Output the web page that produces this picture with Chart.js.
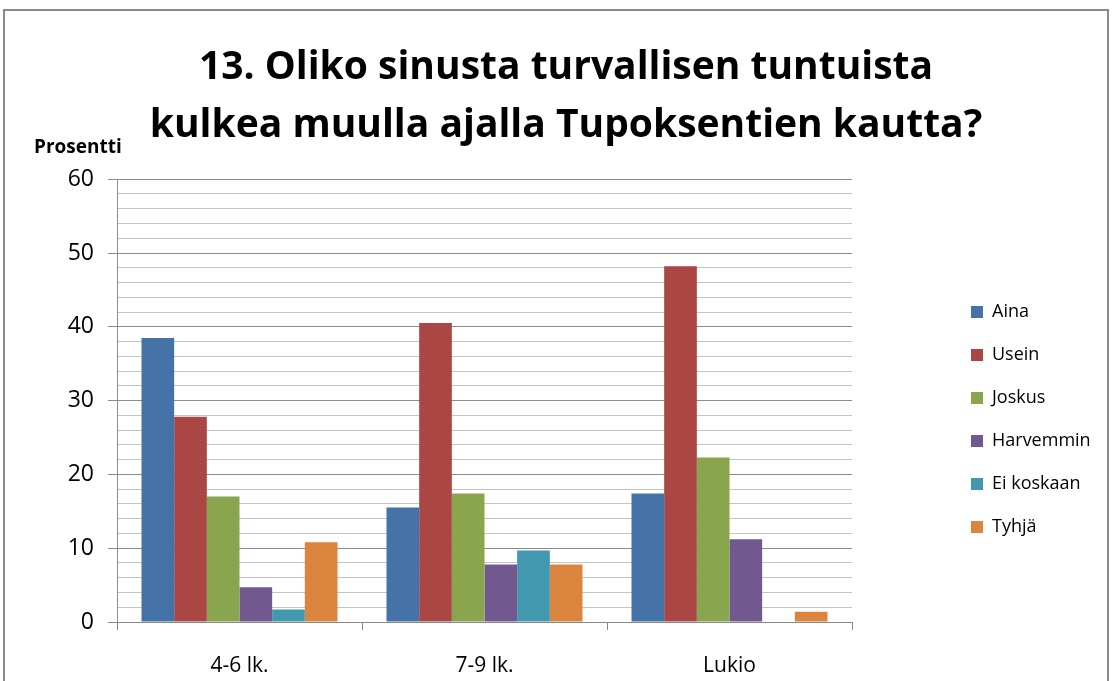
<!DOCTYPE html>
<html>
<head>
<meta charset="utf-8">
<script src="https://cdn.jsdelivr.net/npm/chart.js@4/dist/chart.umd.min.js"></script>
<style>
  html, body { margin: 0; padding: 0; background: #fff; overflow: hidden; }
  #wrap { position: relative; width: 1114px; height: 681px; }
  #frame { position: absolute; left: 3px; top: 9px; width: 1106px; height: 700px; border: 2px solid #8a8a8a; box-sizing: border-box; pointer-events: none; }
  canvas { position: absolute; left: 0; top: 0; }
</style>
</head>
<body>
<div id="wrap">
  <canvas id="chart" width="1114" height="681"></canvas>
  <div id="frame"></div>
</div>
<script>
// data
const categories = ['4-6 lk.', '7-9 lk.', 'Lukio'];
const seriesNames = ['Aina', 'Usein', 'Joskus', 'Harvemmin', 'Ei koskaan', 'Tyhjä'];
const aina = [38.5, 15.5, 17.4];
const usein = [27.8, 40.5, 48.2];
const joskus = [17.0, 17.4, 22.3];
const harvemmin = [4.7, 7.8, 11.2];
const eiKoskaan = [1.7, 9.7, 0];
const tyhja = [10.8, 7.8, 1.4];
const colors = ['#4572A7', '#AA4643', '#89A54E', '#71588F', '#4198AF', '#DB843D'];
const titleLines = ['13. Oliko sinusta turvallisen tuntuista', 'kulkea muulla ajalla Tupoksentien kautta?'];

const FONT = "'Open Sans', sans-serif";
const seriesValues = [aina, usein, joskus, harvemmin, eiKoskaan, tyhja];

// "Prosentti" horizontal axis title + legend/title placement
const extras = {
  id: 'extras',
  afterInit(chart) {
    const lg = chart.legend;
    const fit = lg.fit;
    lg.fit = function () { fit.call(this); this.width = 262; };
  },
  afterLayout(chart) {
    const lg = chart.legend;
    lg.left += 94;
    lg.right += 94;
    lg.top += 79;
    lg.bottom += 79;
    const t = chart.titleBlock;
    t.left += 9;
    t.right += 9;
  },
  afterDraw(chart) {
    const ctx = chart.ctx;
    ctx.save();
    ctx.font = 'bold 19px ' + FONT;
    ctx.fillStyle = '#000';
    ctx.textAlign = 'left';
    ctx.textBaseline = 'middle';
    ctx.fillText('Prosentti', 34, 148);
    ctx.restore();
  }
};

new Chart(document.getElementById('chart'), {
  type: 'bar',
  data: {
    labels: categories,
    datasets: seriesNames.map((n, i) => ({
      label: n,
      data: seriesValues[i],
      backgroundColor: colors[i],
      categoryPercentage: 0.8,
      barPercentage: 1.0
    }))
  },
  options: {
    responsive: false,
    animation: false,
    layout: { padding: 0 },
    plugins: {
      title: {
        display: true,
        text: titleLines,
        color: '#000',
        font: { family: FONT, size: 39, weight: 'bold', lineHeight: 1.49 },
        padding: { top: 39, bottom: 24 }
      },
      legend: {
        position: 'right',
        labels: {
          color: '#000',
          font: { family: FONT, size: 18 },
          boxWidth: 12,
          boxHeight: 12,
          padding: 25
        }
      },
      tooltip: { enabled: false }
    },
    scales: {
      x: {
        afterFit(s) { s.height = 59; },
        grid: { drawOnChartArea: false, tickLength: 8, color: '#888', offset: true },
        border: { color: '#888', width: 1 },
        ticks: { color: '#000', font: { family: FONT, size: 21 }, padding: 23 }
      },
      y: {
        min: 0,
        max: 60,
        afterFit(s) { s.width = 117; },
        grid: {
          color: c => (c.tick.value % 10 === 0 ? '#8c8c8c' : '#c4c4c4'),
          tickColor: c => (c.tick.value % 10 === 0 ? '#8c8c8c' : 'rgba(0,0,0,0)'),
          tickLength: 9,
          lineWidth: 1
        },
        border: { color: '#8c8c8c', width: 1 },
        ticks: {
          stepSize: 2,
          autoSkip: false,
          color: '#000',
          font: { family: FONT, size: 23 },
          padding: 14,
          callback: v => (v % 10 === 0 ? String(v) : '')
        }
      }
    }
  },
  plugins: [extras]
});
</script>
</body>
</html>
